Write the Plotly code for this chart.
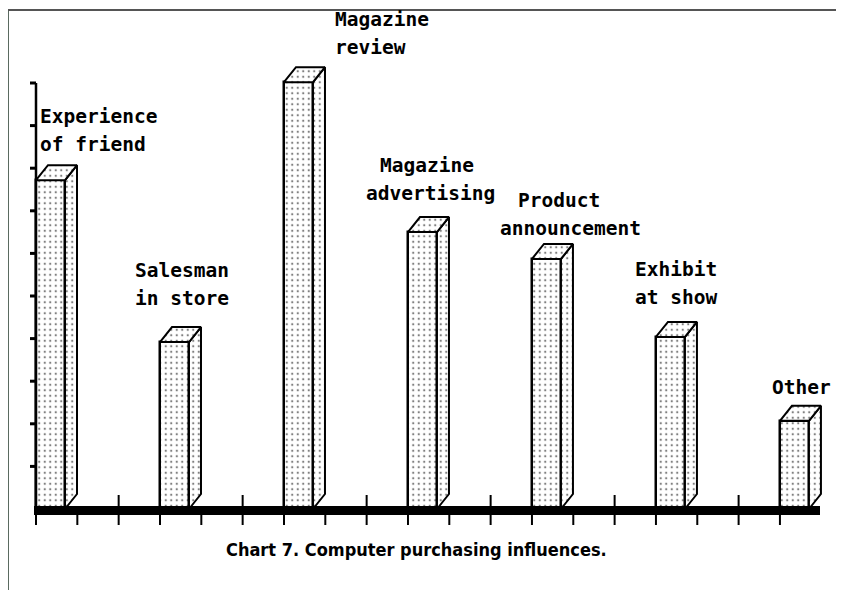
import plotly.graph_objects as go

# ---------------- data ----------------
categories = ["Experience of friend", "Salesman in store", "Magazine review",
              "Magazine advertising", "Product announcement", "Exhibit at show", "Other"]
label_lines = [["Experience", "of friend"], ["Salesman", "in store"], ["Magazine", "review"],
               ["Magazine", "advertising"], ["Product", "announcement"], ["Exhibit", "at show"],
               ["Other"]]
values = [7.72, 3.92, 10.02, 6.50, 5.87, 4.04, 2.07]
y_tick_values = list(range(1, 11))
caption = "Chart 7. Computer purchasing influences."

# ---------------- layout constants (page pixel coordinates) ----------------
W, H = 844, 590
PAGE_OFF = 8                    # default body margin of the html page
PL, PR, PT, PB = 20, 830, 8, 530   # plot area on the page
X0PIX, Y0PIX = 36, 509          # page pixel of data origin
PXX, PXY = 41.33, 42.6          # pixels per data unit
plot_w = PR - PL
plot_h = PB - PT
ML = PL - PAGE_OFF
MT = PT - PAGE_OFF
MR = W - (PR - PAGE_OFF)
MB = H - (PB - PAGE_OFF)
x_range = [(PL - X0PIX) / PXX, (PR - X0PIX) / PXX]
y_range = [(Y0PIX - PB) / PXY, (Y0PIX - PT) / PXY]


def paper_x(px):
    return (px - PL) / plot_w


def paper_y(py):
    return 1 - (py - PT) / plot_h


SLOT = 3                      # x units per category
FW = 29 / PXX                 # front face width
DX = 12 / PXX                 # depth offset x
DY = 15 / PXY                 # depth offset y
n_ticks = 19

# label placement (pixels): per-line x offsets from bar left, first-line centre above bar top
label_dx = [[4, 4], [-25, -25], [51, 51], [-28, -42], [-14, -32], [-21, -21], [-8]]
label_dy = [64, 72, 63, 67, 58, 67, 33]
LINE_GAP = 28

pattern = dict(shape=".", size=5.5, solidity=0.13, fgcolor="black", bgcolor="white")

fig = go.Figure()

lefts = [SLOT * i for i in range(len(values))]

# front faces
fig.add_trace(go.Bar(
    x=[xl + FW / 2 for xl in lefts], y=values, width=FW, base=0,
    marker=dict(color="white", pattern=dict(**pattern, fillmode="overlay"),
                line=dict(color="black", width=2.5)),
    hoverinfo="skip", showlegend=False))

# side and top faces
for xl, v in zip(lefts, values):
    x1 = xl + FW
    side_x = [x1, x1 + DX, x1 + DX, x1, x1]
    side_y = [v, v + DY, DY, 0, v]
    top_x = [xl, xl + DX, x1 + DX, x1, xl]
    top_y = [v, v + DY, v + DY, v, v]
    for px, py in ((side_x, side_y), (top_x, top_y)):
        fig.add_trace(go.Scatter(
            x=px, y=py, mode="lines", fill="toself", fillcolor="white",
            fillpattern=pattern, line=dict(color="black", width=2),
            hoverinfo="skip", showlegend=False))

# y axis line and ticks
fig.add_trace(go.Scatter(x=[0, 0], y=[0, max(y_tick_values)], mode="lines",
                         line=dict(color="black", width=2.5), hoverinfo="skip", showlegend=False))
ytx, yty = [], []
for t in y_tick_values:
    ytx += [-6 / PXX, 0, None]
    yty += [t, t, None]
fig.add_trace(go.Scatter(x=ytx, y=yty, mode="lines", line=dict(color="black", width=3),
                         hoverinfo="skip", showlegend=False))

# x axis: thick line, lower ticks, upper ticks
axis_y = -1.5 / PXY
fig.add_trace(go.Scatter(x=[-2 / PXX, 784 / PXX], y=[axis_y, axis_y], mode="lines",
                         line=dict(color="black", width=9), hoverinfo="skip", showlegend=False))
ltx, lty = [], []
for k in range(n_ticks):
    ltx += [k, k, None]
    lty += [axis_y, (Y0PIX - 525) / PXY, None]
fig.add_trace(go.Scatter(x=ltx, y=lty, mode="lines", line=dict(color="black", width=2),
                         hoverinfo="skip", showlegend=False))
utx, uty = [], []
for xl in lefts[:-1]:
    utx += [xl + SLOT - 1, xl + SLOT - 1, None]
    uty += [0, 14 / PXY, None]
fig.add_trace(go.Scatter(x=utx, y=uty, mode="lines", line=dict(color="black", width=2),
                         hoverinfo="skip", showlegend=False))

# labels
annotations = []
label_font = dict(family="DejaVu Sans Mono", size=19.5, color="black", weight="bold")
for xl, v, lines, dxs, dy in zip(lefts, values, label_lines, label_dx, label_dy):
    for j, (line, dxp) in enumerate(zip(lines, dxs)):
        annotations.append(dict(
            x=xl, y=v, xref="x", yref="y", text=line, showarrow=False,
            xanchor="left", yanchor="middle", xshift=dxp - 2, yshift=dy - j * LINE_GAP,
            font=label_font))

annotations.append(dict(
    x=paper_x(416), y=paper_y(549), xref="paper", yref="paper",
    text=caption, showarrow=False, xanchor="center", yanchor="middle",
    font=dict(family="Liberation Sans Narrow, DejaVu Sans Condensed, Liberation Sans",
              size=18, color="black", weight="bold")))

# frame
shapes = [
    dict(type="line", xref="paper", yref="paper",
         x0=paper_x(8), x1=paper_x(8), y0=paper_y(10), y1=paper_y(H + 10),
         line=dict(color="#5a6a60", width=2)),
    dict(type="line", xref="paper", yref="paper",
         x0=paper_x(8), x1=paper_x(W + 10), y0=paper_y(10), y1=paper_y(10),
         line=dict(color="#555555", width=2)),
]

fig.update_layout(
    width=W, height=H, margin=dict(l=ML, r=MR, t=MT, b=MB),
    paper_bgcolor="white", plot_bgcolor="white",
    xaxis=dict(range=x_range, visible=False, fixedrange=True),
    yaxis=dict(range=y_range, visible=False, fixedrange=True),
    annotations=annotations, shapes=shapes, showlegend=False, bargap=0,
)

fig.write_html("out.html")
